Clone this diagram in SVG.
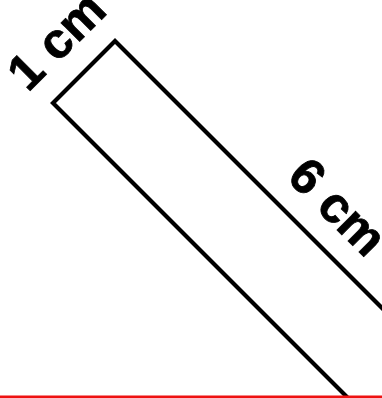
<svg xmlns="http://www.w3.org/2000/svg" width="382" height="398" viewBox="0 0 382 398">
<style>
.lbl{font-family:"Liberation Sans",Arial,sans-serif;font-weight:bold;font-size:50px;fill:#000;stroke:#000;stroke-width:0.8;text-anchor:middle}
</style>
<rect x="0" y="0" width="382" height="398" fill="#fff"/>
<g id="strip">
<polygon points="115,41 53,103 431,481 493,419" fill="none" stroke="#000" stroke-width="4.2" stroke-linejoin="miter"/>
</g>
<g id="label-width">
<text class="lbl" transform="rotate(-45)" x="11" y="85.6">1 cm</text>
</g>
<g id="label-length">
<text class="lbl" transform="rotate(45)" x="385" y="-75.7">6 cm</text>
</g>
<rect id="baseline" x="0" y="395.5" width="382" height="2.5" fill="#ee1111"/>
</svg>
